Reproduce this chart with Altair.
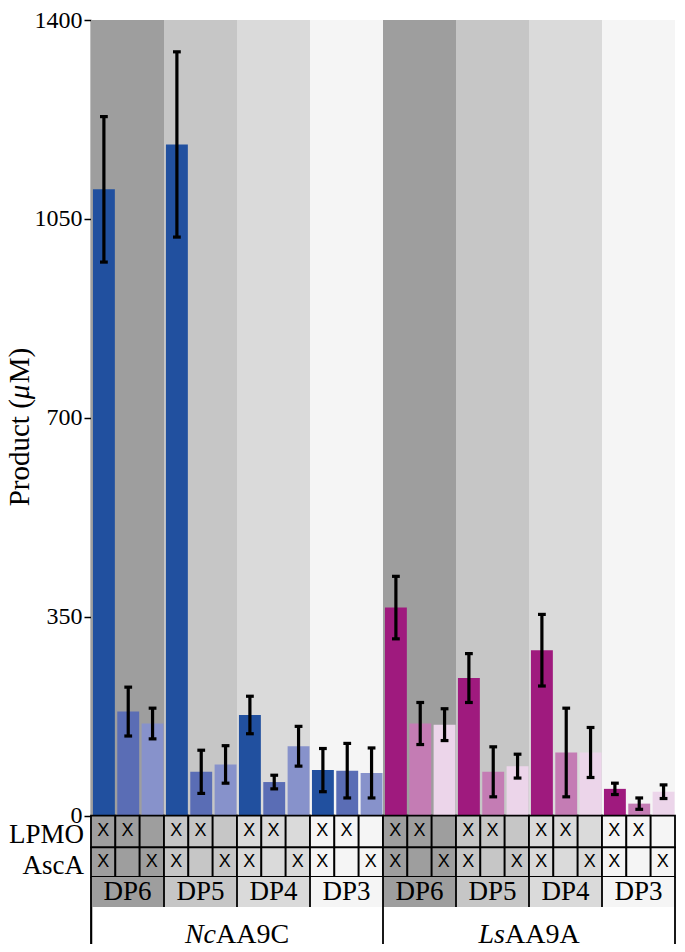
import altair as alt
import pandas as pd

# ---------------- data ----------------
groups_italic = ["Nc", "Ls"]
groups_roman = ["AA9C", "AA9A"]
dps = ["DP6", "DP5", "DP4", "DP3"]
row_labels = ["LPMO", "AscA"]
lpmo_marks = ["X", "X", ""]
asca_marks = ["X", "", "X"]
y_ticks = [0, 350, 700, 1050, 1400]

nc_values = [1102, 183, 162, 1181, 77, 90, 177, 59, 122, 80, 79, 75]
nc_errors = [128, 43, 27, 163, 38, 33, 33, 12, 35, 38, 48, 44]
ls_values = [366, 162, 160, 242, 77, 87, 291, 111, 111, 47, 21, 42]
ls_errors = [55, 37, 28, 43, 44, 21, 63, 78, 44, 10, 10, 12]

# ---------------- styles ----------------
dp_shades = ["#9e9e9e", "#c6c6c6", "#dadada", "#f5f5f5"]
nc_colors = ["#21509f", "#5a6db5", "#8792cb"]
ls_colors = ["#9f1a7e", "#c47cb4", "#ecd5ea"]
SERIF = "Liberation Serif"
SANS = "Liberation Sans"

Y_MIN, Y_MAX = -226, 1400
row_bounds = [0, -56, -108, -161, -226]   # table row edges (y units)

# ---------------- frames ----------------
bars = []
for g, (vals, errs, cols) in enumerate([(nc_values, nc_errors, nc_colors),
                                        (ls_values, ls_errors, ls_colors)]):
    for j, (v, e) in enumerate(zip(vals, errs)):
        i = g * 12 + j
        xc = i + 0.53
        bars.append(dict(x=i + 0.08, x2=i + 0.98, xc=xc, cl=xc - 0.16, cr=xc + 0.16,
                         v=v, lo=v - e, hi=v + e, c=cols[j % 3]))
bars = pd.DataFrame(bars)

blocks = []
for k in range(8):
    blocks.append(dict(x=3 * k, x2=3 * k + 3, xc=3 * k + 1.5, c=dp_shades[k % 4],
                       dp=dps[k % 4], y=0, y2=Y_MAX,
                       ty=row_bounds[2], ty2=row_bounds[3],
                       ly=(row_bounds[2] + row_bounds[3]) / 2))
blocks = pd.DataFrame(blocks)

cells = []
for i in range(24):
    shade = dp_shades[(i // 3) % 4]
    for r, marks in enumerate([lpmo_marks, asca_marks]):
        cells.append(dict(x=i, x2=i + 1, xc=i + 0.5, y=row_bounds[r], y2=row_bounds[r + 1],
                          yc=(row_bounds[r] + row_bounds[r + 1]) / 2,
                          c=shade, t=marks[i % 3]))
cells = pd.DataFrame(cells)

rowlab = pd.DataFrame(dict(t=row_labels,
                           y=[(row_bounds[0] + row_bounds[1]) / 2,
                              (row_bounds[1] + row_bounds[2]) / 2]))

dp_lines = pd.DataFrame(dict(x=[3 * k for k in range(9)],
                             y=row_bounds[2], y2=row_bounds[3]))
grp_lines = pd.DataFrame(dict(x=[0, 12, 24], y=row_bounds[3], y2=row_bounds[4]))

grp_y = -210
grp = pd.DataFrame(dict(xc=[6, 18], it=groups_italic, ro=groups_roman, y=grp_y))
grp_dx = [-21, -24]

# ---------------- encodings ----------------
xs = alt.Scale(domain=[0, 24], nice=False, zero=False)
ys = alt.Scale(domain=[Y_MIN, Y_MAX], nice=False, zero=False)
yaxis = alt.Axis(values=y_ticks, title=None, grid=False, format="d",
                 labelFont=SERIF, labelFontSize=24, labelColor="black",
                 labelPadding=2, tickColor="black", tickSize=7, tickWidth=1.5,
                 domainColor="black", domainWidth=1.5)


def X(f):
    return alt.X(f, type="quantitative", scale=xs, axis=None)


def Y(f):
    return alt.Y(f, type="quantitative", scale=ys, axis=yaxis)


fill = alt.Color("c:N", scale=None, legend=None)

bg = alt.Chart(blocks).mark_rect().encode(x=X("x"), x2="x2", y=Y("y"), y2="y2", color=fill)

barl = alt.Chart(bars).mark_rect().encode(x=X("x"), x2="x2", y=Y("v"),
                                          y2=alt.datum(0), color=fill)
err = alt.Chart(bars).mark_rule(color="black", strokeWidth=3.2).encode(
    x=X("xc"), y=Y("lo"), y2="hi")
cap_lo = alt.Chart(bars).mark_rule(color="black", strokeWidth=3.2).encode(
    x=X("cl"), x2="cr", y=Y("lo"))
cap_hi = alt.Chart(bars).mark_rule(color="black", strokeWidth=3.2).encode(
    x=X("cl"), x2="cr", y=Y("hi"))

cell_r = alt.Chart(cells).mark_rect(stroke="black", strokeWidth=1.8).encode(
    x=X("x"), x2="x2", y=Y("y"), y2="y2", color=fill)
cell_t = alt.Chart(cells).mark_text(font=SANS, fontSize=18, color="black",
                                    baseline="middle").encode(
    x=X("xc"), y=Y("yc"), text="t:N")

dp_r = alt.Chart(blocks).mark_rect().encode(x=X("x"), x2="x2", y=Y("ty"), y2="ty2", color=fill)
dp_t = alt.Chart(blocks).mark_text(font=SERIF, fontSize=27, color="black",
                                   baseline="middle").encode(
    x=X("xc"), y=Y("ly"), text="dp:N")
dp_l = alt.Chart(dp_lines).mark_rule(color="black", strokeWidth=1.8).encode(
    x=X("x"), y=Y("y"), y2="y2")
grp_l = alt.Chart(grp_lines).mark_rule(color="black", strokeWidth=1.8).encode(
    x=X("x"), y=Y("y"), y2="y2")

row_t = alt.Chart(rowlab).mark_text(font=SERIF, fontSize=27, align="right",
                                    baseline="middle", color="black", dy=4).encode(
    x=alt.value(-7), y=Y("y"), text="t:N")

# y-axis title with italic mu, built from three parts along the axis midpoint
title_df = pd.DataFrame(dict(t=["Product (", "\u03bc", "M)"],
                             sty=["normal", "italic", "normal"],
                             y=[(y_ticks[0] + y_ticks[-1]) / 2] * 3))
title_parts = []
offs = [-88.5, 18.6, 34.6]
for k in range(3):
    title_parts.append(
        alt.Chart(title_df.iloc[[k]]).mark_text(
            font=SERIF, fontSize=29, angle=270, align="left", baseline="middle",
            color="black", fontStyle=title_df.sty[k], dx=offs[k]).encode(
            x=alt.value(-71), y=Y("y"), text="t:N"))

# group labels: italic prefix + roman remainder
grp_layers = []
for g in range(2):
    d = grp.iloc[[g]]
    grp_layers.append(alt.Chart(d).mark_text(font=SERIF, fontSize=28, fontStyle="italic",
                                             align="right", baseline="middle", color="black",
                                             dx=grp_dx[g]).encode(
        x=X("xc"), y=Y("y"), text="it:N"))
    grp_layers.append(alt.Chart(d).mark_text(font=SERIF, fontSize=28, align="left",
                                             baseline="middle", color="black",
                                             dx=grp_dx[g]).encode(
        x=X("xc"), y=Y("y"), text="ro:N"))

chart = alt.layer(bg, barl, err, cap_lo, cap_hi, cell_r, cell_t, dp_r, dp_l, dp_t,
                  grp_l, row_t, *title_parts, *grp_layers).properties(
    width=584, height=924,
    padding={"left": 83, "top": 12, "right": 2, "bottom": 0},
    autosize=alt.AutoSizeParams(type="none"),
).configure_view(stroke=None).configure_axis(labelFont=SERIF)

chart.save("out.html", embed_options={"renderer": "svg", "actions": False})
